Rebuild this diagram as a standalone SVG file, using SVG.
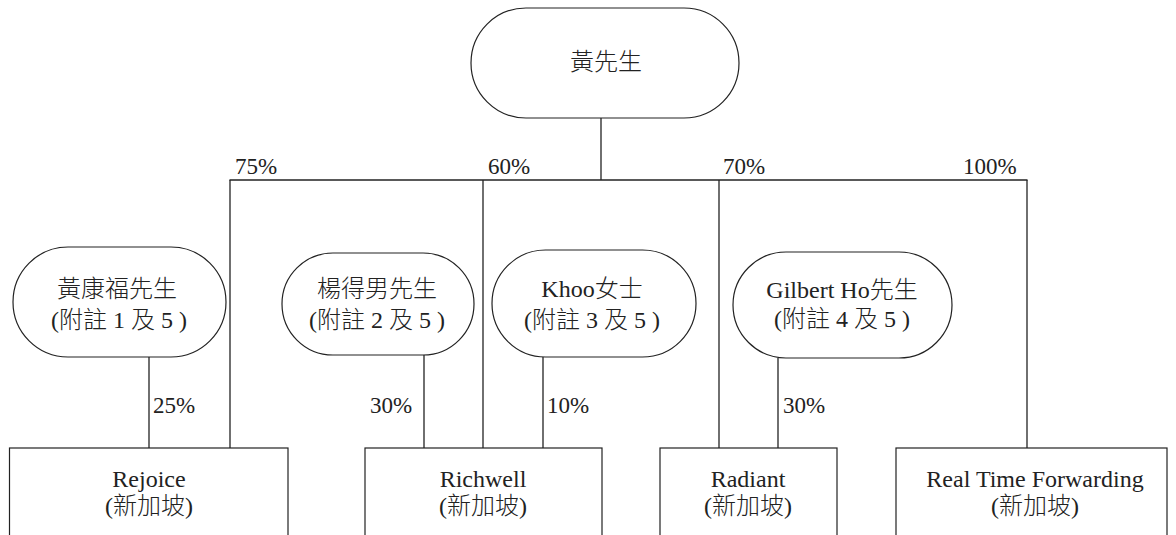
<svg xmlns="http://www.w3.org/2000/svg" width="1176" height="535" viewBox="0 0 1176 535">
<style>
.shape{fill:#fff;stroke:#222;stroke-width:1.2}
.ln{stroke:#222;stroke-width:1.3;fill:none}
text{font-family:"Liberation Serif","Noto Sans CJK TC",serif;font-size:24px;fill:#222;font-weight:300}
.c{text-anchor:middle}
.p{font-size:23px}
</style>
<rect width="1176" height="535" fill="#fff"/>
<g id="connectors">
<line class="ln" x1="601" y1="118" x2="601" y2="180"/>
<line class="ln" x1="229.5" y1="180" x2="1027.5" y2="180"/>
<line class="ln" x1="230" y1="180" x2="230" y2="448"/>
<line class="ln" x1="483" y1="180" x2="483" y2="448"/>
<line class="ln" x1="719" y1="180" x2="719" y2="448"/>
<line class="ln" x1="1027" y1="180" x2="1027" y2="448"/>
<line class="ln" x1="149" y1="357" x2="149" y2="448"/>
<line class="ln" x1="424" y1="355" x2="424" y2="448"/>
<line class="ln" x1="543" y1="357" x2="543" y2="448"/>
<line class="ln" x1="778" y1="358" x2="778" y2="448"/>
<text class="p" x="235" y="174">75%</text>
<text class="p" x="488" y="174">60%</text>
<text class="p" x="723" y="174">70%</text>
<text class="p" x="963" y="174">100%</text>
<text class="p" x="153" y="413">25%</text>
<text class="p" x="370" y="413">30%</text>
<text class="p" x="547" y="413">10%</text>
<text class="p" x="783" y="413">30%</text>
</g>
<g id="n-huang">
<rect class="shape" x="471" y="8" width="268" height="110" rx="55"/>
<text class="c" x="606" y="70">黃先生</text>
</g>
<g id="n-hkf">
<rect class="shape" x="13" y="247" width="213" height="110" rx="55"/>
<text class="c" x="117" y="297">黃康福先生</text>
<text class="c" x="119" y="328">(附註 1 及 5 )</text>
</g>
<g id="n-ydn">
<rect class="shape" x="282" y="253" width="192" height="102" rx="51"/>
<text class="c" x="377" y="297">楊得男先生</text>
<text class="c" x="377" y="328">(附註 2 及 5 )</text>
</g>
<g id="n-khoo">
<rect class="shape" x="492" y="250" width="204" height="107" rx="53.5"/>
<text class="c" x="592" y="297">Khoo女士</text>
<text class="c" x="592" y="328">(附註 3 及 5 )</text>
</g>
<g id="n-gilbert">
<rect class="shape" x="733" y="252" width="219" height="106" rx="53"/>
<text class="c" x="842" y="298">Gilbert Ho先生</text>
<text class="c" x="842" y="327">(附註 4 及 5 )</text>
</g>
<g id="n-rejoice">
<rect class="shape" x="9.5" y="448" width="278.5" height="100"/>
<text class="c" x="149" y="487">Rejoice</text>
<text class="c" x="149" y="514">(新加坡)</text>
</g>
<g id="n-richwell">
<rect class="shape" x="365" y="448" width="237" height="100"/>
<text class="c" x="483" y="487">Richwell</text>
<text class="c" x="483" y="514">(新加坡)</text>
</g>
<g id="n-radiant">
<rect class="shape" x="660" y="448" width="177" height="100"/>
<text class="c" x="748" y="487">Radiant</text>
<text class="c" x="748" y="514">(新加坡)</text>
</g>
<g id="n-rtf">
<rect class="shape" x="896" y="448" width="271" height="100"/>
<text class="c" x="1035" y="487">Real Time Forwarding</text>
<text class="c" x="1035" y="514">(新加坡)</text>
</g>
</svg>
